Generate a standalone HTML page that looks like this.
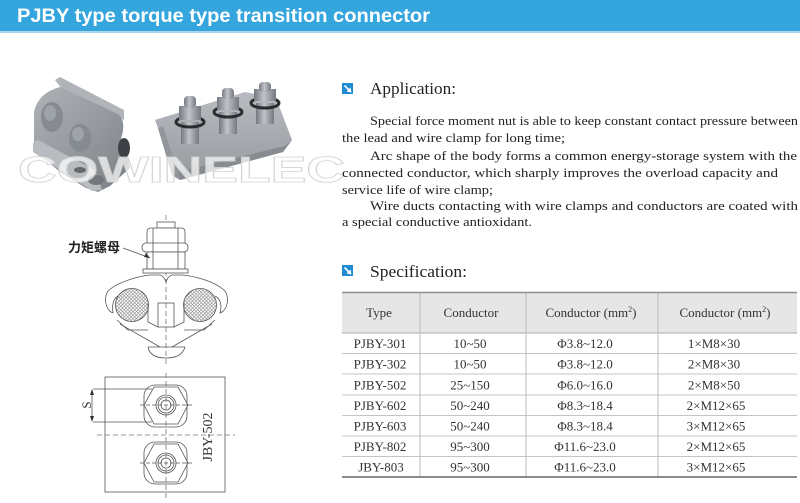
<!DOCTYPE html>
<html><head><meta charset="utf-8"><style>
html,body{margin:0;padding:0;background:#fff;}
svg{display:block;}
</style></head><body>
<svg width="800" height="503" viewBox="0 0 800 503" xmlns="http://www.w3.org/2000/svg">
<defs>
  <pattern id="hatch" width="3.5" height="3.5" patternUnits="userSpaceOnUse">
    <rect width="3.5" height="3.5" fill="#fff"/>
    <path d="M0,0 L3.5,3.5 M3.5,0 L0,3.5" stroke="#888" stroke-width="0.6"/>
  </pattern>
  <linearGradient id="metal" x1="0" y1="0" x2="1" y2="1">
    <stop offset="0" stop-color="#aeb2b6"/>
    <stop offset="0.5" stop-color="#959a9f"/>
    <stop offset="1" stop-color="#7a7f84"/>
  </linearGradient>
  <linearGradient id="metal2" x1="0" y1="0" x2="0" y2="1">
    <stop offset="0" stop-color="#b8bbbf"/>
    <stop offset="1" stop-color="#969a9f"/>
  </linearGradient>
  <linearGradient id="bolt" x1="0" y1="0" x2="1" y2="0">
    <stop offset="0" stop-color="#747880"/>
    <stop offset="0.45" stop-color="#c0c3c7"/>
    <stop offset="1" stop-color="#747880"/>
  </linearGradient>
</defs>

<rect width="800" height="503" fill="#fff"/>

<!-- Title bar -->
<rect x="0" y="0" width="800" height="31" fill="#35a5de"/>
<rect x="0" y="31" width="800" height="2" fill="#a9d6ef"/>
<text x="17" y="22" font-family="Liberation Sans, sans-serif" font-weight="bold" font-size="19.5" fill="#fff" textLength="413" lengthAdjust="spacingAndGlyphs">PJBY type torque type transition connector</text>

<!-- Left photo clamp -->
<g>
  <path d="M55,80 L60,77 L124,110 L124,120 L62,89 Z" fill="#b0b4b8"/>
  <path d="M34,112 Q38,93 60,87 L118,114 Q126,121 122,135 L118,150 L128,158 L130,168 L110,186 L98,192 L86,188 L60,172 L34,150 Z" fill="url(#metal)"/>
  <path d="M33,143 L38,140 L95,170 L102,190 L92,191 L33,152 Z" fill="#b8bbbf"/>
  <ellipse cx="52" cy="117" rx="11" ry="15" fill="#868b91"/>
  <ellipse cx="50" cy="113" rx="6" ry="8" fill="#9ea3a8"/>
  <ellipse cx="80" cy="138" rx="11" ry="14" fill="#868b91"/>
  <ellipse cx="78" cy="134" rx="6" ry="7" fill="#9ea3a8"/>
  <ellipse cx="124" cy="148" rx="6" ry="10" fill="#3d4044"/>
  <ellipse cx="96" cy="180" rx="8" ry="5" fill="#74787d"/>
  <ellipse cx="80" cy="170" rx="6" ry="3" fill="#65696e"/>
</g>

<!-- Right photo clamp -->
<g>
  <path d="M155,120 L245,92 L276,98 L292,140 L283,152 L180,180 L172,175 L158,128 Z" fill="url(#metal2)"/>
  <path d="M158,128 L172,175 L180,180 L176,166 L163,126 Z" fill="#92969b"/>
  <path d="M180,180 L283,152 L292,140 L285,146 L178,172 Z" fill="#888c91"/>
  <rect x="181" y="122" width="18" height="22" fill="url(#bolt)"/>
  <ellipse cx="190" cy="122" rx="14" ry="5" fill="none" stroke="#2a2c2f" stroke-width="3"/>
  <rect x="179" y="106" width="22" height="14" fill="url(#bolt)"/>
  <rect x="184" y="96" width="12" height="12" rx="4" fill="url(#bolt)"/>
  <rect x="219" y="112" width="18" height="22" fill="url(#bolt)"/>
  <ellipse cx="228" cy="112" rx="14" ry="5" fill="none" stroke="#2a2c2f" stroke-width="3"/>
  <rect x="217" y="97" width="22" height="13" fill="url(#bolt)"/>
  <rect x="222" y="88" width="12" height="11" rx="4" fill="url(#bolt)"/>
  <rect x="256" y="103" width="18" height="21" fill="url(#bolt)"/>
  <ellipse cx="265" cy="103" rx="14" ry="5" fill="none" stroke="#2a2c2f" stroke-width="3"/>
  <rect x="254" y="89" width="22" height="12" fill="url(#bolt)"/>
  <rect x="259" y="82" width="12" height="10" rx="4" fill="url(#bolt)"/>
</g>

<!-- Watermark -->
<text x="18" y="182" font-family="Liberation Sans, sans-serif" font-weight="bold" font-size="36" fill="#fff" fill-opacity="0.7" stroke="#d2d2d2" stroke-width="0.8" textLength="327" lengthAdjust="spacingAndGlyphs">COWINELEC</text>

<!-- Drawing 1 -->
<g stroke="#555" stroke-width="0.8" fill="none">
  <line x1="166" y1="215" x2="166" y2="367" stroke-dasharray="5,3" stroke="#777"/>
  <rect x="157" y="222" width="18" height="6" fill="#fff"/>
  <path d="M147,243 L147,232 Q147,228 151,228 L181,228 Q185,228 185,232 L185,243" fill="#fff"/>
  <rect x="142" y="243" width="46" height="9" rx="4" fill="#fff"/>
  <rect x="147" y="252" width="38" height="17" fill="#fff"/>
  <line x1="153" y1="228" x2="153" y2="269"/>
  <line x1="178" y1="228" x2="178" y2="269"/>
  <rect x="143" y="269" width="45" height="4" fill="#fff"/>
  <path d="M113,313 C105,310 103,296 109,290 C120,281 140,276 150,275 L160,275 Q164,276 166,282 Q168,276 172,275 L182,275 C194,276 214,281 224,290 C230,296 228,310 220,313 C222,306 221,299 215,296"/>
  <path d="M113,313 C112,306 113,299 118,296"/>
  <circle cx="132" cy="305" r="16.5" fill="url(#hatch)"/>
  <circle cx="200" cy="305" r="16.5" fill="url(#hatch)"/>
  <rect x="158" y="303" width="16" height="24"/>
  <path d="M148,303 L148,322 L158,327 M184,303 L184,322 L174,327"/>
  <path d="M117,320 L128,330 L148,330 M215,320 L204,330 L184,330"/>
  <path d="M120,324 L160,347 M212,324 L172,347"/>
  <line x1="148" y1="347" x2="185" y2="347"/>
  <path d="M148,347 Q150,358 166,358 Q182,358 185,347"/>
  <line x1="123" y1="248" x2="150" y2="258"/>
</g>
<path d="M150,258 L144,257 L146,253 Z" fill="#333"/>
<text x="68" y="252" font-family="Liberation Sans, 'Noto Sans CJK SC', sans-serif" font-size="13" font-weight="bold" fill="#222">力矩螺母</text>

<!-- Drawing 2 -->
<g stroke="#555" stroke-width="0.8" fill="none">
  <rect x="105" y="377" width="120" height="115"/>
  <line x1="166" y1="373" x2="166" y2="498" stroke-dasharray="5,3" stroke="#777"/>
  <line x1="97" y1="435" x2="235" y2="435" stroke-dasharray="5,3" stroke="#777"/>
  <rect x="144" y="385" width="43" height="42" rx="11"/>
  <path d="M154,387 L178,387 L188,405 L178,424 L154,424 L144,405 Z"/>
  <circle cx="166" cy="405" r="10"/>
  <circle cx="166" cy="405" r="8"/>
  <circle cx="166" cy="405" r="5"/>
  <line x1="140" y1="405" x2="193" y2="405" stroke-dasharray="4,2"/>
  <rect x="144" y="442" width="43" height="42" rx="11"/>
  <path d="M154,444 L178,444 L188,463 L178,482 L154,482 L144,463 Z"/>
  <circle cx="166" cy="463" r="10"/>
  <circle cx="166" cy="463" r="8"/>
  <circle cx="166" cy="463" r="5"/>
  <line x1="140" y1="463" x2="193" y2="463" stroke-dasharray="4,2"/>
  <line x1="93" y1="389" x2="152" y2="389"/>
  <line x1="93" y1="422" x2="152" y2="422"/>
  <line x1="92" y1="390" x2="92" y2="421"/>
</g>
<path d="M92,389 L90,395 L94,395 Z M92,422 L90,416 L94,416 Z" fill="#333"/>
<text transform="translate(91,405) rotate(-90)" text-anchor="middle" font-family="Liberation Serif, serif" font-size="13" fill="#333">S</text>
<text transform="translate(212,437) rotate(-90)" text-anchor="middle" font-family="Liberation Serif, serif" font-size="14" fill="#333">JBY-502</text>

<!-- Application -->
<rect x="342" y="83" width="11" height="11" fill="#1f8bd2"/>
<path d="M344.5,85.5 L350,91" stroke="#fff" stroke-width="1.6"/>
<path d="M351.5,92.5 L346.5,91.5 L350.5,87.5 Z" fill="#fff"/>
<text x="370" y="94" font-family="Liberation Serif, serif" font-size="17" fill="#222" textLength="86" lengthAdjust="spacingAndGlyphs">Application:</text>

<g font-family="Liberation Serif, serif" font-size="13" fill="#222">
  <text x="370" y="125" textLength="428" lengthAdjust="spacingAndGlyphs">Special force moment nut is able to keep constant contact pressure between</text>
  <text x="342" y="142" textLength="223" lengthAdjust="spacingAndGlyphs">the lead and wire clamp for long time;</text>
  <text x="370" y="160" textLength="427" lengthAdjust="spacingAndGlyphs">Arc shape of the body forms a common energy-storage system with the</text>
  <text x="342" y="177" textLength="436" lengthAdjust="spacingAndGlyphs">connected conductor, which sharply improves the overload capacity and</text>
  <text x="342" y="194" textLength="151" lengthAdjust="spacingAndGlyphs">service life of wire clamp;</text>
  <text x="370" y="210" textLength="428" lengthAdjust="spacingAndGlyphs">Wire ducts contacting with wire clamps and conductors are coated with</text>
  <text x="342" y="226" textLength="190" lengthAdjust="spacingAndGlyphs">a special conductive antioxidant.</text>
</g>

<!-- Specification -->
<rect x="342" y="265" width="11" height="11" fill="#1f8bd2"/>
<path d="M344.5,267.5 L350,273" stroke="#fff" stroke-width="1.6"/>
<path d="M351.5,274.5 L346.5,273.5 L350.5,269.5 Z" fill="#fff"/>
<text x="370" y="277" font-family="Liberation Serif, serif" font-size="17" fill="#222" textLength="97" lengthAdjust="spacingAndGlyphs">Specification:</text>

<!-- Table -->
<rect x="342" y="293" width="455" height="40" fill="#e6e6e6"/>
<g stroke="#c4c4c4" stroke-width="1">
  <line x1="342" y1="333" x2="797" y2="333" stroke="#aaa"/>
  <line x1="342" y1="353.5" x2="797" y2="353.5"/>
  <line x1="342" y1="374" x2="797" y2="374"/>
  <line x1="342" y1="395" x2="797" y2="395"/>
  <line x1="342" y1="415.5" x2="797" y2="415.5"/>
  <line x1="342" y1="436" x2="797" y2="436"/>
  <line x1="342" y1="456.5" x2="797" y2="456.5"/>
  <line x1="420" y1="292" x2="420" y2="477" stroke="#bbb"/>
  <line x1="526" y1="292" x2="526" y2="477" stroke="#bbb"/>
  <line x1="658" y1="292" x2="658" y2="477" stroke="#bbb"/>
</g>
<line x1="342" y1="292.5" x2="797" y2="292.5" stroke="#8e8e8e" stroke-width="1.5"/>
<line x1="342" y1="477" x2="797" y2="477" stroke="#666" stroke-width="1.5"/>

<g font-family="Liberation Serif, serif" font-size="13" fill="#333" text-anchor="middle">
  <text x="379" y="317">Type</text>
  <text x="471" y="317">Conductor</text>
  <text x="591" y="317">Conductor (mm<tspan font-size="8" dy="-5">2</tspan><tspan dy="5">)</tspan></text>
  <text x="725" y="317">Conductor (mm<tspan font-size="8" dy="-5">2</tspan><tspan dy="5">)</tspan></text>

  <text x="380" y="348">PJBY-301</text><text x="470" y="348">10~50</text><text x="585" y="348">Φ3.8~12.0</text><text x="714" y="348">1×M8×30</text>
  <text x="380" y="368.5">PJBY-302</text><text x="470" y="368.5">10~50</text><text x="585" y="368.5">Φ3.8~12.0</text><text x="714" y="368.5">2×M8×30</text>
  <text x="380" y="389.5">PJBY-502</text><text x="470" y="389.5">25~150</text><text x="585" y="389.5">Φ6.0~16.0</text><text x="714" y="389.5">2×M8×50</text>
  <text x="380" y="410">PJBY-602</text><text x="470" y="410">50~240</text><text x="585" y="410">Φ8.3~18.4</text><text x="716" y="410">2×M12×65</text>
  <text x="380" y="430.5">PJBY-603</text><text x="470" y="430.5">50~240</text><text x="585" y="430.5">Φ8.3~18.4</text><text x="716" y="430.5">3×M12×65</text>
  <text x="380" y="451">PJBY-802</text><text x="470" y="451">95~300</text><text x="585" y="451">Φ11.6~23.0</text><text x="716" y="451">2×M12×65</text>
  <text x="381" y="471.5">JBY-803</text><text x="470" y="471.5">95~300</text><text x="585" y="471.5">Φ11.6~23.0</text><text x="716" y="471.5">3×M12×65</text>
</g>
</svg>
</body></html>
